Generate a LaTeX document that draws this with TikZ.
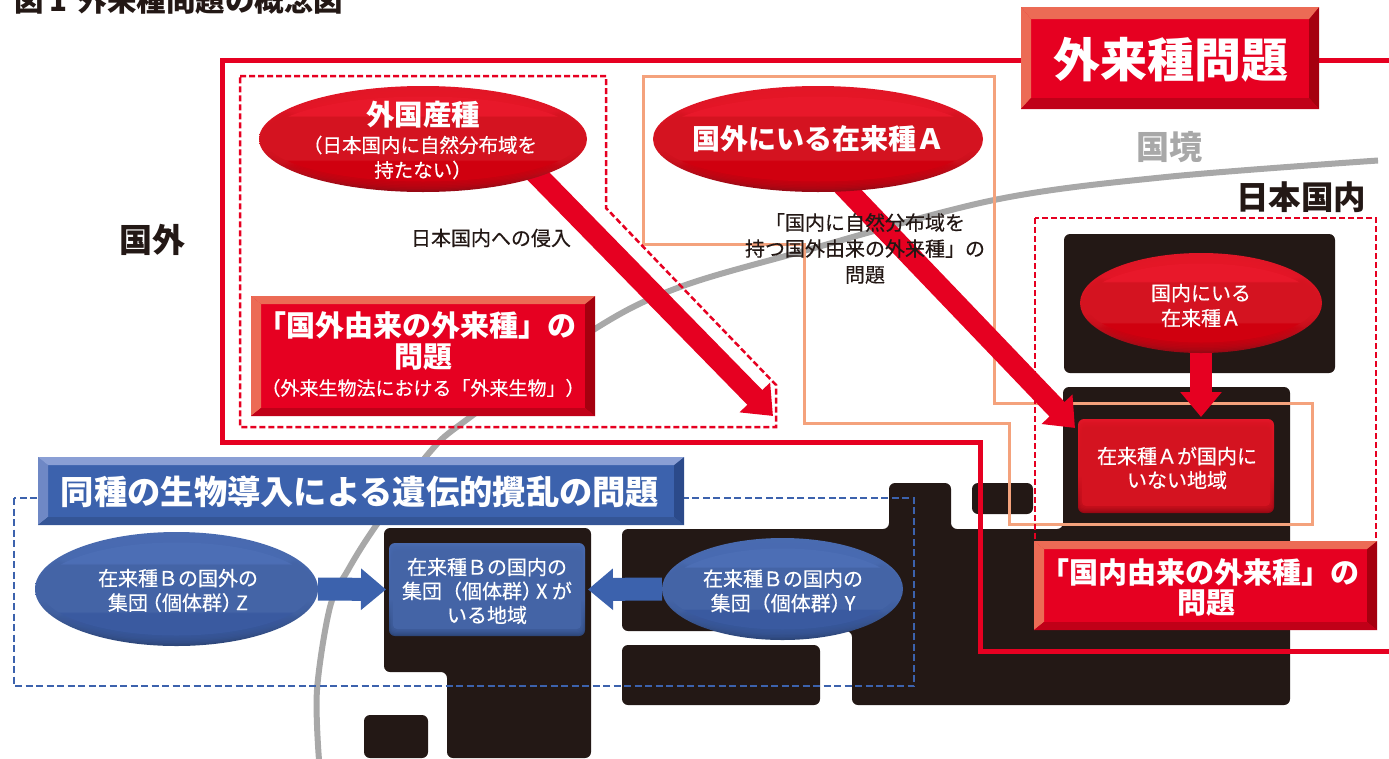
\documentclass[tikz,border=0pt]{standalone}
\usepackage{fontspec}
\setmainfont{Noto Sans CJK JP}
\newfontfamily\medf{Noto Sans CJK JP}[FakeBold=0.35]
\usetikzlibrary{arrows.meta,calc,shapes.geometric}
\definecolor{ink}{HTML}{231815}
\definecolor{redmain}{HTML}{E60021}
\definecolor{redT}{HTML}{EC6B55}
\definecolor{redR}{HTML}{A5000F}
\definecolor{redB}{HTML}{C00018}
\definecolor{blumain}{HTML}{3C62AD}
\definecolor{bluT}{HTML}{8A9FD5}
\definecolor{bluL}{HTML}{6F88C5}
\definecolor{bluR}{HTML}{2B4A8A}
\definecolor{bluB}{HTML}{345596}
\definecolor{orangeline}{HTML}{F4A27C}
\definecolor{grayline}{HTML}{A8A8A8}
\definecolor{rA}{HTML}{E8182A}\definecolor{rBm}{HTML}{D41320}\definecolor{rC}{HTML}{D0000F}
\definecolor{rPale}{HTML}{F8D0D4}\definecolor{rPeak}{HTML}{1E0002}\definecolor{rDk}{HTML}{6A000A}
\pgfdeclareverticalshading{redrim}{100bp}{color(0bp)=(rPeak);color(11bp)=(rDk);color(45bp)=(rBm);color(88bp)=(rA);color(100bp)=(rPale)}
\pgfdeclareverticalshading{redface}{100bp}{color(0bp)=(rC);color(37bp)=(rC);color(38bp)=(rBm);color(63bp)=(rBm);color(64bp)=(rA);color(100bp)=(rA)}
\definecolor{bA}{HTML}{4C6EB5}\definecolor{bBm}{HTML}{4464A6}\definecolor{bC}{HTML}{3A5AA0}
\definecolor{bPeak}{HTML}{0A1426}\definecolor{bDk}{HTML}{1C3058}\definecolor{bPale}{HTML}{D4DCEE}
\pgfdeclareverticalshading{blurim}{100bp}{color(0bp)=(bPeak);color(11bp)=(bDk);color(45bp)=(bBm);color(88bp)=(bA);color(100bp)=(bPale)}
\pgfdeclareverticalshading{bluface}{100bp}{color(0bp)=(bC);color(37bp)=(bC);color(38bp)=(bBm);color(63bp)=(bBm);color(64bp)=(bA);color(100bp)=(bA)}
\pgfdeclarelayer{maplayer}
\pgfdeclarelayer{midlayer}
\pgfsetlayers{maplayer,midlayer,main}
\newcommand\fsz[2]{\fontsize{#1}{#2}\selectfont}
\newcommand\pk{\kern-0.3em\relax}
\newcommand\bevelpaint[7]{%
  \coordinate (bnw) at (path picture bounding box.north west);
  \coordinate (bne) at (path picture bounding box.north east);
  \coordinate (bsw) at (path picture bounding box.south west);
  \coordinate (bse) at (path picture bounding box.south east);
  \fill[#4] (bnw)--(bsw)--($(bsw)+(#1pt,#7pt)$)--($(bnw)+(#1pt,-#2pt)$)--cycle;
  \fill[#5] (bne)--(bse)--($(bse)+(-#1pt,#7pt)$)--($(bne)+(-#1pt,-#2pt)$)--cycle;
  \fill[#3] (bnw)--(bne)--($(bne)+(-#1pt,-#2pt)$)--($(bnw)+(#1pt,-#2pt)$)--cycle;
  \fill[#6] (bsw)--(bse)--($(bse)+(-#1pt,#7pt)$)--($(bsw)+(#1pt,#7pt)$)--cycle;
}
\newcommand\ovalpaint[3]{%
  \coordinate (oc) at (path picture bounding box.center);
  \foreach \k in {1,...,6}{
    \shade[shading=#3,opacity=0.2] (oc) ellipse ({#1pt-\k*0.8pt} and {#2pt-\k*1.5pt});
  }
  \shade[shading=#3] (oc) ellipse ({#1pt-5.6pt} and {#2pt-10.5pt});
}
\newcommand\padpaint[3]{%
  \coordinate (oc) at (path picture bounding box.center);
  \foreach \k in {1,...,5}{
    \fill[#3,opacity=0.22,rounded corners=5pt] ($(oc)+({-#1pt/2+\k*0.7pt},{-#2pt/2+\k*1.3pt})$) rectangle ($(oc)+({#1pt/2-\k*0.7pt},{#2pt/2-\k*1.5pt})$);
  }
  \fill[#3,rounded corners=4pt] ($(oc)+({-#1pt/2+4pt},{-#2pt/2+7pt})$) rectangle ($(oc)+({#1pt/2-4pt},{#2pt/2-8pt})$);
}
\tikzset{
  mapblock/.style={fill=ink,rounded corners=6pt},
  redbevel/.style 2 args={rectangle,inner sep=0pt,outer sep=0pt,fill=redmain,minimum width=#1pt,minimum height=#2pt,
    path picture={\bevelpaint{10}{8}{redT}{redT}{redR}{redB}{8}}},
  redbevelbig/.style 2 args={rectangle,inner sep=0pt,outer sep=0pt,fill=redmain,minimum width=#1pt,minimum height=#2pt,
    path picture={\bevelpaint{10}{12}{redT}{redT}{redR}{redB}{11}}},
  blubevel/.style 2 args={rectangle,inner sep=0pt,outer sep=0pt,fill=blumain,minimum width=#1pt,minimum height=#2pt,
    path picture={\bevelpaint{10}{8}{bluT}{bluL}{bluR}{bluB}{8}}},
  redoval/.style 2 args={ellipse,inner sep=0pt,outer sep=0pt,minimum width=2*#1 pt,minimum height=2*#2 pt,shade,shading=redrim,
    path picture={\ovalpaint{#1}{#2}{redface}}},
  bluoval/.style 2 args={ellipse,inner sep=0pt,outer sep=0pt,minimum width=2*#1 pt,minimum height=2*#2 pt,shade,shading=blurim,
    path picture={\ovalpaint{#1}{#2}{bluface}}},
  redpad/.style 2 args={rectangle,rounded corners=6pt,inner sep=0pt,outer sep=0pt,minimum width=#1pt,minimum height=#2pt,shade,shading=redrim,
    path picture={\padpaint{#1}{#2}{rBm}}},
  blupad/.style 2 args={rectangle,rounded corners=6pt,inner sep=0pt,outer sep=0pt,minimum width=#1pt,minimum height=#2pt,shade,shading=blurim,
    path picture={\padpaint{#1}{#2}{bBm}}},
  wtxt/.style={text=white,align=center,inner sep=0pt},
  ktxt/.style={text=ink,align=center,inner sep=0pt},
  redframe/.style={draw=redmain,line width=5pt,miter limit=10},
  reddash/.style={draw=redmain,line width=2.5pt,dash pattern=on 6pt off 3pt},
  bludash/.style={draw=blumain,line width=2.5pt,dash pattern=on 7pt off 3.5pt},
  orangebox/.style={draw=orangeline,line width=3pt},
  borderline/.style={draw=grayline,line width=6pt},
  redarrow/.style={draw=redmain,line width=21pt,-{Triangle[length=26pt,width=41pt,fill=redmain]}},
  redarrowv/.style={draw=redmain,line width=22pt,-{Triangle[length=25pt,width=40pt,fill=redmain]}},
  bluarrow/.style={draw=blumain,line width=23pt,-{Triangle[length=25pt,width=40pt,fill=blumain]}},
}
\begin{document}
\begin{tikzpicture}[x=1pt,y=-1pt]
\useasboundingbox (0,0) rectangle (1389,758);

% ---- title and region labels
\node[ktxt,font=\fsz{29.5}{29.5}\bfseries,anchor=west] (title) at (14,0.5) {図\hspace{6pt}1\hspace{10pt}外来種問題の概念図};
\node[ktxt,font=\fsz{33}{33}\bfseries] (abroad) at (152,240) {国外};
\node[text=grayline,inner sep=0pt,font=\fsz{33}{33}\bfseries] (borderlabel) at (1169,147) {国境};
\node[ktxt,font=\fsz{32.5}{32.5}\bfseries] (japan) at (1301,197) {日本国内};

% ---- map, border, outlines
\begin{pgfonlayer}{maplayer}
  \fill[mapblock] (1064,234) rectangle (1335,373);
  \fill[mapblock] (622,529)--(889,529)--(889,483)--(951,483)--(951,529)--(1063,529)--(1063,387)--(1290,387)--(1290,705)--(852,705)--(852,631)--(622,631)--cycle;
  \fill[mapblock] (972,483) rectangle (1033,514);
  \fill[mapblock] (622,645) rectangle (820,705);
  \fill[mapblock] (384,528)--(591,528)--(591,758)--(447,758)--(447,672)--(384,672)--cycle;
  \fill[mapblock] (364,715) rectangle (428,758);
  \draw[borderline] plot[smooth,tension=0.55] coordinates {(1378,160.5) (1166,177) (994,200) (800,252) (680,287) (598,327) (469,418) (429,453) (375,527) (348,570) (330,607) (317,690) (319,760)};
  \draw[orangebox] (643,76)--(994,76)--(994,403)--(1312,403)--(1312,524)--(1009,524)--(1009,423)--(804,423)--(804,244)--(643,244)--cycle;
  \draw[reddash] (240,76)--(606,76)--(606,208)--(776,385)--(776,427)--(240,427)--cycle;
  \draw[reddash] (1035,218) rectangle (1376,545);
  \draw[bludash] (14,498) rectangle (914,686);
  \draw[redframe] (1389,60)--(222.5,60)--(222.5,442.5)--(980,442.5)--(980,651.5)--(1389,651.5);
\end{pgfonlayer}

% ---- red side
\node[redbevelbig={298}{102}] (mainproblem) at (1170,58) {};
\node[wtxt,font=\fsz{47}{47}\bfseries] (mainproblemtext) at (1170.5,60) {外来種問題};

\node[redoval={164}{53}] (foreign) at (423,139) {};
\node[wtxt,font=\fsz{28.5}{28.5}\bfseries] (foreigntitle) at (423,115) {外国産種};
\node[wtxt,font=\medf\fsz{19.5}{19.5}] (foreignnote) at (420,145) {（日本国内に自然分布域を};
\node[wtxt,font=\medf\fsz{19.5}{19.5}] (foreignnoteb) at (423,170) {持たない）};

\node[redoval={165}{53}] (abroadA) at (818,139) {};
\node[wtxt,font=\fsz{28}{28}\bfseries] (abroadAtext) at (818,139) {国外にいる在来種Ａ};

\node[redoval={121}{50}] (inA) at (1201,303) {};
\node[wtxt,font=\medf\fsz{20}{25}] (inAtext) at (1201,305.5) {国内にいる\\在来種Ａ};

\node[redpad={196}{94}] (regionA) at (1176,466) {};
\node[wtxt,font=\medf\fsz{20}{24}] (regionAtext) at (1177,468) {在来種Ａが国内に\\いない地域};

\node[redbevel={344}{120}] (foreignorigin) at (423,356) {};
\node[wtxt,font=\fsz{29}{29}\bfseries] (foreignorigintext) at (417,325) {「国外由来の外来種」の};
\node[wtxt,font=\fsz{29}{29}\bfseries] (foreignoriginb) at (423,357) {問題};
\node[wtxt,font=\medf\fsz{19}{19}] (foreignoriginnote) at (423,388) {（外来生物法における「外来生物」）};

\node[redbevel={343}{89}] (domesticorigin) at (1205.5,585.5) {};
\node[wtxt,font=\fsz{29}{29}\bfseries] (domesticorigintext) at (1200,572) {「国内由来の外来種」の};
\node[wtxt,font=\fsz{29}{29}\bfseries] (domesticoriginb) at (1206,603) {問題};

\node[ktxt,font=\medf\fsz{20}{20}] (invasion) at (491,238) {日本国内への侵入};
\node[ktxt,font=\medf\fsz{20}{26}] (domesticnote) at (865,248.5) {「国内に自然分布域を\\持つ国外由来の外来種」の\\問題};

% ---- blue side
\node[blubevel={646}{68}] (geneproblem) at (361,491) {};
\node[wtxt,font=\fsz{33.3}{33.3}\bfseries] (geneproblemtext) at (360,492) {同種の生物導入による遺伝的攪乱の問題};

\node[bluoval={141.5}{57}] (popZ) at (176.5,589) {};
\node[wtxt,font=\medf\fsz{20}{24.5}] (popZtext) at (178,590.5) {在来種Ｂの国外の\\集団\pk（個体群）\pk Z};

\node[bluoval={120.5}{51}] (popY) at (782.5,589) {};
\node[wtxt,font=\medf\fsz{20}{24.5}] (popYtext) at (783,591) {在来種Ｂの国内の\\集団（個体群）\pk Y};

\node[blupad={196}{93}] (popX) at (487,589.5) {};
\node[wtxt,font=\medf\fsz{20}{24}] (popXtext) at (487,591) {在来種Ｂの国内の\\集団（個体群）\pk X が\\いる地域};

% ---- arrows
\coordinate (invasiontip) at (773,416);
\begin{pgfonlayer}{midlayer}
  \draw[redarrow] ($(foreign.south east)+(-12,-12)$) -- (invasiontip);
  \draw[redarrow] ($(abroadA.south)+(10,-22)$) -- ($(regionA.north west)+(-3,9)$);
  \draw[redarrowv,shorten >=2pt] (inA.south) -- (inA.south |- regionA.north);
  \draw[bluarrow,shorten >=3pt] (popZ.east) -- (popX.west);
  \draw[bluarrow,shorten >=3pt] (popY.west) -- (popX.east);
\end{pgfonlayer}
\end{tikzpicture}
\end{document}
